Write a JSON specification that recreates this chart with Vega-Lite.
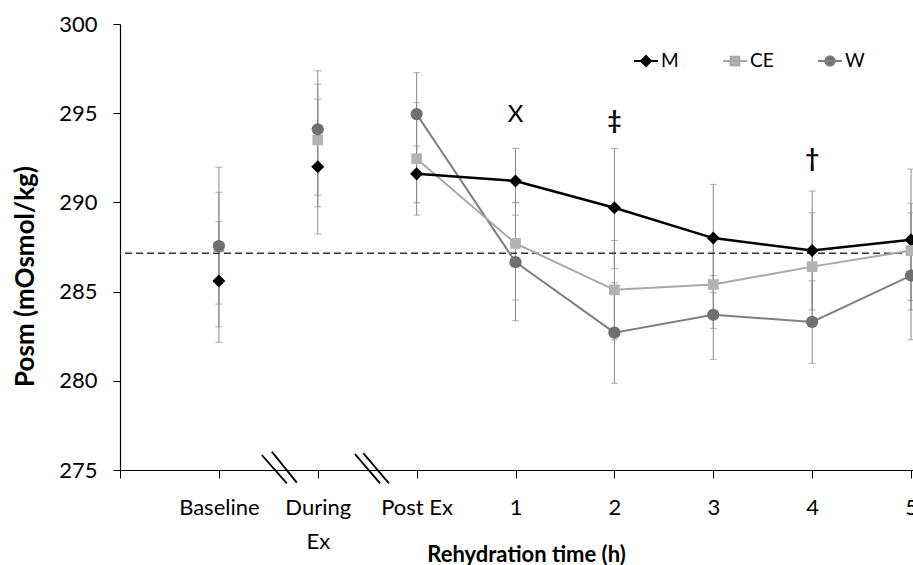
{
  "$schema": "https://vega.github.io/schema/vega-lite/v6.json",
  "width": 793,
  "height": 446,
  "autosize": {"type": "none"},
  "padding": {"left": 120, "top": 24, "right": 0, "bottom": 95},
  "background": "white",
  "config": {
    "view": {"stroke": null},
    "font": "Lato",
    "axis": {"grid": false, "domainColor": "black", "tickColor": "black", "labelColor": "black", "titleColor": "black", "labelFont": "Lato", "titleFont": "Lato"}
  },
  "datasets": {
    "pts": [
      {"t": 1, "series": "M", "v": 285.6, "lo": 282.16, "hi": 288.92},
      {"t": 2, "series": "M", "v": 292.0, "lo": 288.23, "hi": 295.78},
      {"t": 3, "series": "M", "v": 291.6, "lo": 289.98, "hi": 293.16},
      {"t": 4, "series": "M", "v": 291.2, "lo": 289.29, "hi": 293.03},
      {"t": 5, "series": "M", "v": 289.7, "lo": 286.3, "hi": 293.03},
      {"t": 6, "series": "M", "v": 288.0, "lo": 284.94, "hi": 291.01},
      {"t": 7, "series": "M", "v": 287.3, "lo": 283.97, "hi": 290.64},
      {"t": 8, "series": "M", "v": 287.9, "lo": 283.97, "hi": 291.87},
      {"t": 1, "series": "CE", "v": 287.5, "lo": 284.3, "hi": 290.57},
      {"t": 2, "series": "CE", "v": 293.5, "lo": 290.4, "hi": 296.62},
      {"t": 3, "series": "CE", "v": 292.45, "lo": 289.29, "hi": 295.59},
      {"t": 4, "series": "CE", "v": 287.7, "lo": 284.53, "hi": 289.98},
      {"t": 5, "series": "CE", "v": 285.1, "lo": 282.3, "hi": 287.86},
      {"t": 6, "series": "CE", "v": 285.4, "lo": 282.94, "hi": 287.9},
      {"t": 7, "series": "CE", "v": 286.4, "lo": 283.4, "hi": 289.42},
      {"t": 8, "series": "CE", "v": 287.3, "lo": 284.5, "hi": 289.95},
      {"t": 1, "series": "W", "v": 287.55, "lo": 283.03, "hi": 291.97},
      {"t": 2, "series": "W", "v": 294.1, "lo": 289.76, "hi": 297.38},
      {"t": 3, "series": "W", "v": 294.95, "lo": 292.6, "hi": 297.27},
      {"t": 4, "series": "W", "v": 286.65, "lo": 283.37, "hi": 290.0},
      {"t": 5, "series": "W", "v": 282.7, "lo": 279.86, "hi": 285.5},
      {"t": 6, "series": "W", "v": 283.7, "lo": 281.2, "hi": 285.9},
      {"t": 7, "series": "W", "v": 283.3, "lo": 280.98, "hi": 285.6},
      {"t": 8, "series": "W", "v": 285.9, "lo": 282.3, "hi": 289.42}
    ],
    "breaks": [
      {"x": 1.434, "y": 275.84, "x2": 1.687, "y2": 274.25},
      {"x": 1.535, "y": 276.03, "x2": 1.788, "y2": 274.29},
      {"x": 2.377, "y": 275.89, "x2": 2.630, "y2": 274.25},
      {"x": 2.46, "y": 275.95, "x2": 2.72, "y2": 274.25}
    ],
    "notes": [
      {"t": 4, "y": 294.9, "label": "X", "kind": "x"},
      {"t": 5, "y": 294.52, "label": "‡", "kind": "d"},
      {"t": 7, "y": 292.39, "label": "†", "kind": "d"}
    ],
    "ref": [{"level": 287.15}]
  },
  "data": {"name": "pts"},
  "encoding": {
    "x": {
      "field": "t", "type": "quantitative",
      "scale": {"domain": [0, 8.02], "nice": false, "zero": false},
      "axis": {
        "values": [0, 1, 2, 3, 4, 5, 6, 7, 8],
        "labelExpr": "[' ', 'Baseline', ['During', 'Ex'], 'Post Ex', '1', '2', '3', '4', '5'][datum.value]",
        "tickSize": 8, "tickWidth": 1, "domainWidth": 1.2,
        "labelFontSize": 22, "labelBaseline": "alphabetic", "labelPadding": 36, "labelLineHeight": 34,
        "labelFlush": false, "labelOverlap": false, "labelBound": false,
        "title": "Rehydration time (h)", "titleFontSize": 22, "titleFontWeight": "bold",
        "titleX": 406, "titleY": 91, "titleAlign": "center", "titleBaseline": "alphabetic"
      }
    },
    "y": {
      "field": "v", "type": "quantitative",
      "scale": {"domain": [275, 300], "nice": false, "zero": false},
      "axis": {
        "values": [275, 280, 285, 290, 295, 300],
        "tickSize": 7, "tickWidth": 1, "domainWidth": 1.2,
        "labelFontSize": 22, "labelPadding": 16,
        "title": "Posm (mOsmol/kg)", "titleFontSize": 26, "titleFontWeight": "bold",
        "titleAngle": 270, "titleX": -87, "titleY": 252, "titleAlign": "center", "titleBaseline": "alphabetic"
      }
    }
  },
  "layer": [
    {
      "mark": {"type": "errorbar", "orient": "vertical", "ticks": {"size": 7, "thickness": 1, "color": "#8a8a8a"}, "rule": {"color": "#8a8a8a", "strokeWidth": 1}},
      "encoding": {"y": {"field": "lo", "type": "quantitative"}, "y2": {"field": "hi"}}
    },
    {
      "data": {"name": "ref"},
      "mark": {"type": "rule", "color": "#333333", "strokeDash": [7, 4], "strokeWidth": 1.3},
      "encoding": {"x": null, "y": {"field": "level", "type": "quantitative"}}
    },
    {
      "data": {"name": "breaks"},
      "mark": {"type": "rule", "color": "black", "strokeWidth": 1.8, "clip": false},
      "encoding": {
        "x": {"field": "x", "type": "quantitative"},
        "x2": {"field": "x2"},
        "y": {"field": "y", "type": "quantitative"},
        "y2": {"field": "y2"}
      }
    },
    {
      "transform": [{"filter": "datum.series == 'W' && datum.t >= 3"}],
      "mark": {"type": "line", "color": "#808080", "strokeWidth": 2}
    },
    {
      "transform": [{"filter": "datum.series == 'CE' && datum.t >= 3"}],
      "mark": {"type": "line", "color": "#a8a8a8", "strokeWidth": 2}
    },
    {
      "transform": [{"filter": "datum.series == 'M' && datum.t >= 3"}],
      "mark": {"type": "line", "color": "black", "strokeWidth": 2.5}
    },
    {
      "transform": [{"filter": "datum.series == 'M'"}],
      "mark": {"type": "point", "shape": "diamond", "filled": true, "color": "black", "size": 170, "opacity": 1}
    },
    {
      "transform": [{"filter": "datum.series == 'CE'"}],
      "mark": {"type": "point", "shape": "square", "filled": true, "color": "#b3b3b3", "size": 115, "opacity": 1}
    },
    {
      "transform": [{"filter": "datum.series == 'W'"}],
      "mark": {"type": "point", "shape": "circle", "filled": true, "color": "#707070", "size": 150, "opacity": 1}
    },
    {
      "data": {"name": "notes"},
      "transform": [{"filter": "datum.kind == 'x'"}],
      "mark": {"type": "text", "fontSize": 24, "font": "Lato", "color": "black", "baseline": "middle"},
      "encoding": {"y": {"field": "y", "type": "quantitative"}, "text": {"field": "label"}}
    },
    {
      "data": {"name": "notes"},
      "transform": [{"filter": "datum.kind == 'd'"}],
      "mark": {"type": "text", "fontSize": 24, "font": "Lato", "fontWeight": "bold", "color": "black", "baseline": "middle"},
      "encoding": {"y": {"field": "y", "type": "quantitative"}, "text": {"field": "label"}}
    },
    {
      "transform": [{"filter": "datum.series == 'none'"}],
      "mark": {"type": "point", "filled": true, "strokeWidth": 2, "opacity": 1},
      "encoding": {
        "color": {"field": "series", "type": "nominal", "scale": {"domain": ["M", "CE", "W"], "range": ["#000000", "#b3b3b3", "#707070"]},
          "legend": {"orient": "none", "legendX": 513, "legendY": 24, "direction": "horizontal", "title": null, "symbolSize": 576, "symbolStrokeWidth": 2, "labelFont": "Lato", "labelFontSize": 19, "labelColor": "black", "columnPadding": 40, "labelOffset": 2, "symbolOpacity": 1}},
        "shape": {"field": "series", "type": "nominal", "scale": {"domain": ["M", "CE", "W"], "range": ["M-1,0H1M0,-0.42L0.42,0L0,0.42L-0.42,0Z", "M-1,0H1M-0.36,-0.36H0.36V0.36H-0.36Z", "M-1,0H1M-0.4,0A0.4,0.4,0,1,0,0.4,0A0.4,0.4,0,1,0,-0.4,0Z"]}},
        "stroke": {"field": "series", "type": "nominal", "scale": {"domain": ["M", "CE", "W"], "range": ["#000000", "#a8a8a8", "#808080"]}}
      }
    }
  ]
}
